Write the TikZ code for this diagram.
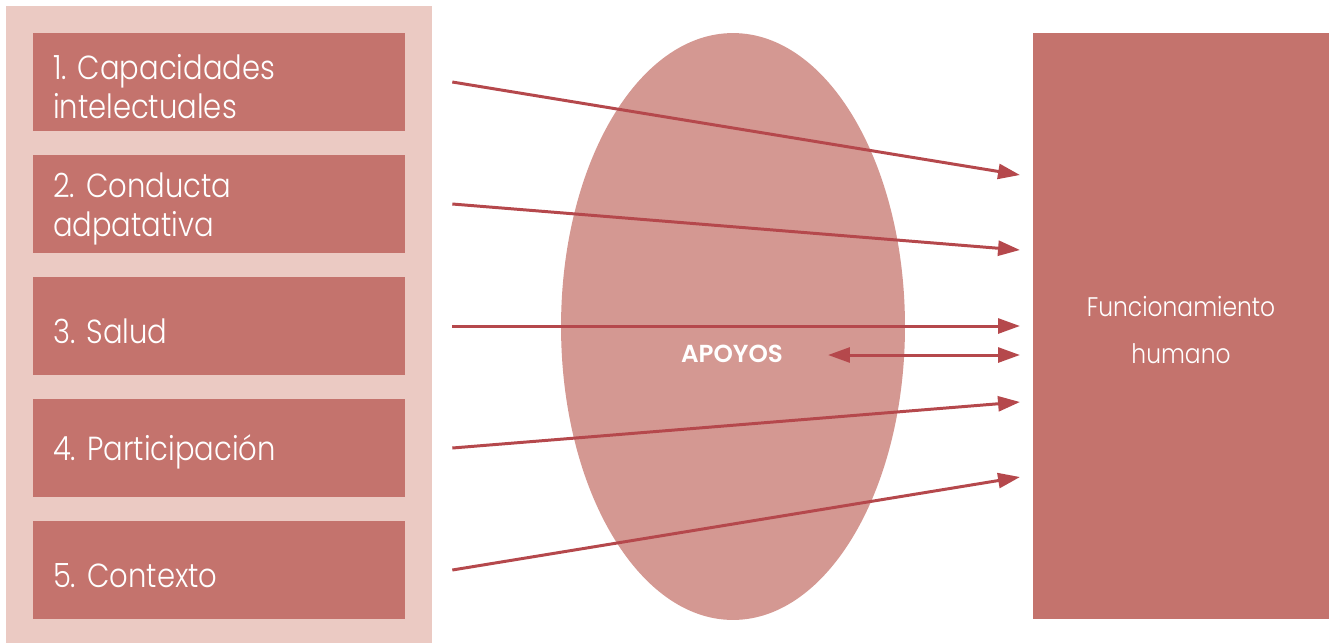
\documentclass[tikz,border=0pt]{standalone}
\usepackage{fontspec}
\setmainfont{Poppins Light}[FakeStretch=0.87]
\newfontfamily\negrita{Poppins SemiBold}
\frenchspacing
\usetikzlibrary{arrows.meta,shapes.geometric,calc}

\definecolor{fondo}{HTML}{EBCAC3}
\definecolor{caja}{HTML}{C4736D}
\definecolor{ovalo}{HTML}{D49892}
\definecolor{flecha}{HTML}{B5484C}

\tikzset{
  dimension/.style={fill=caja, text=white, minimum width=7.44cm, minimum height=1.96cm,
    text width=6.64cm, inner xsep=0.4cm, align=left,
    font=\fontsize{19}{22}\selectfont, execute at begin node={\rule{0pt}{19.6pt}}},
  conecta/.style={draw=flecha, line width=1.7pt,
    -{Triangle[length=12.5pt,width=8.5pt]}},
}

\begin{document}
\begin{tikzpicture}[x=0.02cm, y=-0.02cm]
\useasboundingbox (0,0) rectangle (1337,643);
% fondo de las dimensiones
\fill [fondo] (6,6) rectangle (432,643);
% dimensiones
\node [dimension] (cap) at (219,82) {1. Capacidades\\intelectuales};
\node [dimension] (con) at (219,204) {2. Conducta\\adpatativa};
\node [dimension] (sal) at (219,326) {3. Salud};
\node [dimension] (par) at (219,448) {4. Participación};
\node [dimension] (ctx) at (219,570) {5. Contexto};
% apoyos
\node [ellipse, fill=ovalo, inner sep=0, minimum width=6.88cm, minimum height=11.74cm] (ovalo) at (733,326.5) {};
\node [text=white, font=\fontsize{14}{17}\selectfont\negrita] (apoyos) at (732,354) {APOYOS};
% funcionamiento
\node [fill=caja, text=white, minimum width=5.92cm, minimum height=11.72cm, text width=5cm, align=center,
  font=\fontsize{15.3}{27.2}\selectfont, execute at begin node={\rule{0pt}{16pt}}] (func) at (1181,326) {Funcionamiento\\humano};
%
\coordinate (f1) at (1020,175);
\coordinate (f2) at (1020,250);
\coordinate (f3) at (1020,326);
\coordinate (f4) at (1020,402);
\coordinate (f5) at (1020,477);
\coordinate (fa) at (1020,355);
\coordinate (ap) at (828,355);
\draw [conecta] ($(cap.east)+(47,0)$) -- (f1);
\draw [conecta] ($(con.east)+(47,0)$) -- (f2);
\draw [conecta] ($(sal.east)+(47,0)$) -- (f3);
\draw [conecta] ($(par.east)+(47,0)$) -- (f4);
\draw [conecta] ($(ctx.east)+(47,0)$) -- (f5);
\draw [conecta, {Triangle[length=12.5pt,width=8.5pt]}-{Triangle[length=12.5pt,width=8.5pt]}] (ap) -- (fa);
\end{tikzpicture}
\end{document}
